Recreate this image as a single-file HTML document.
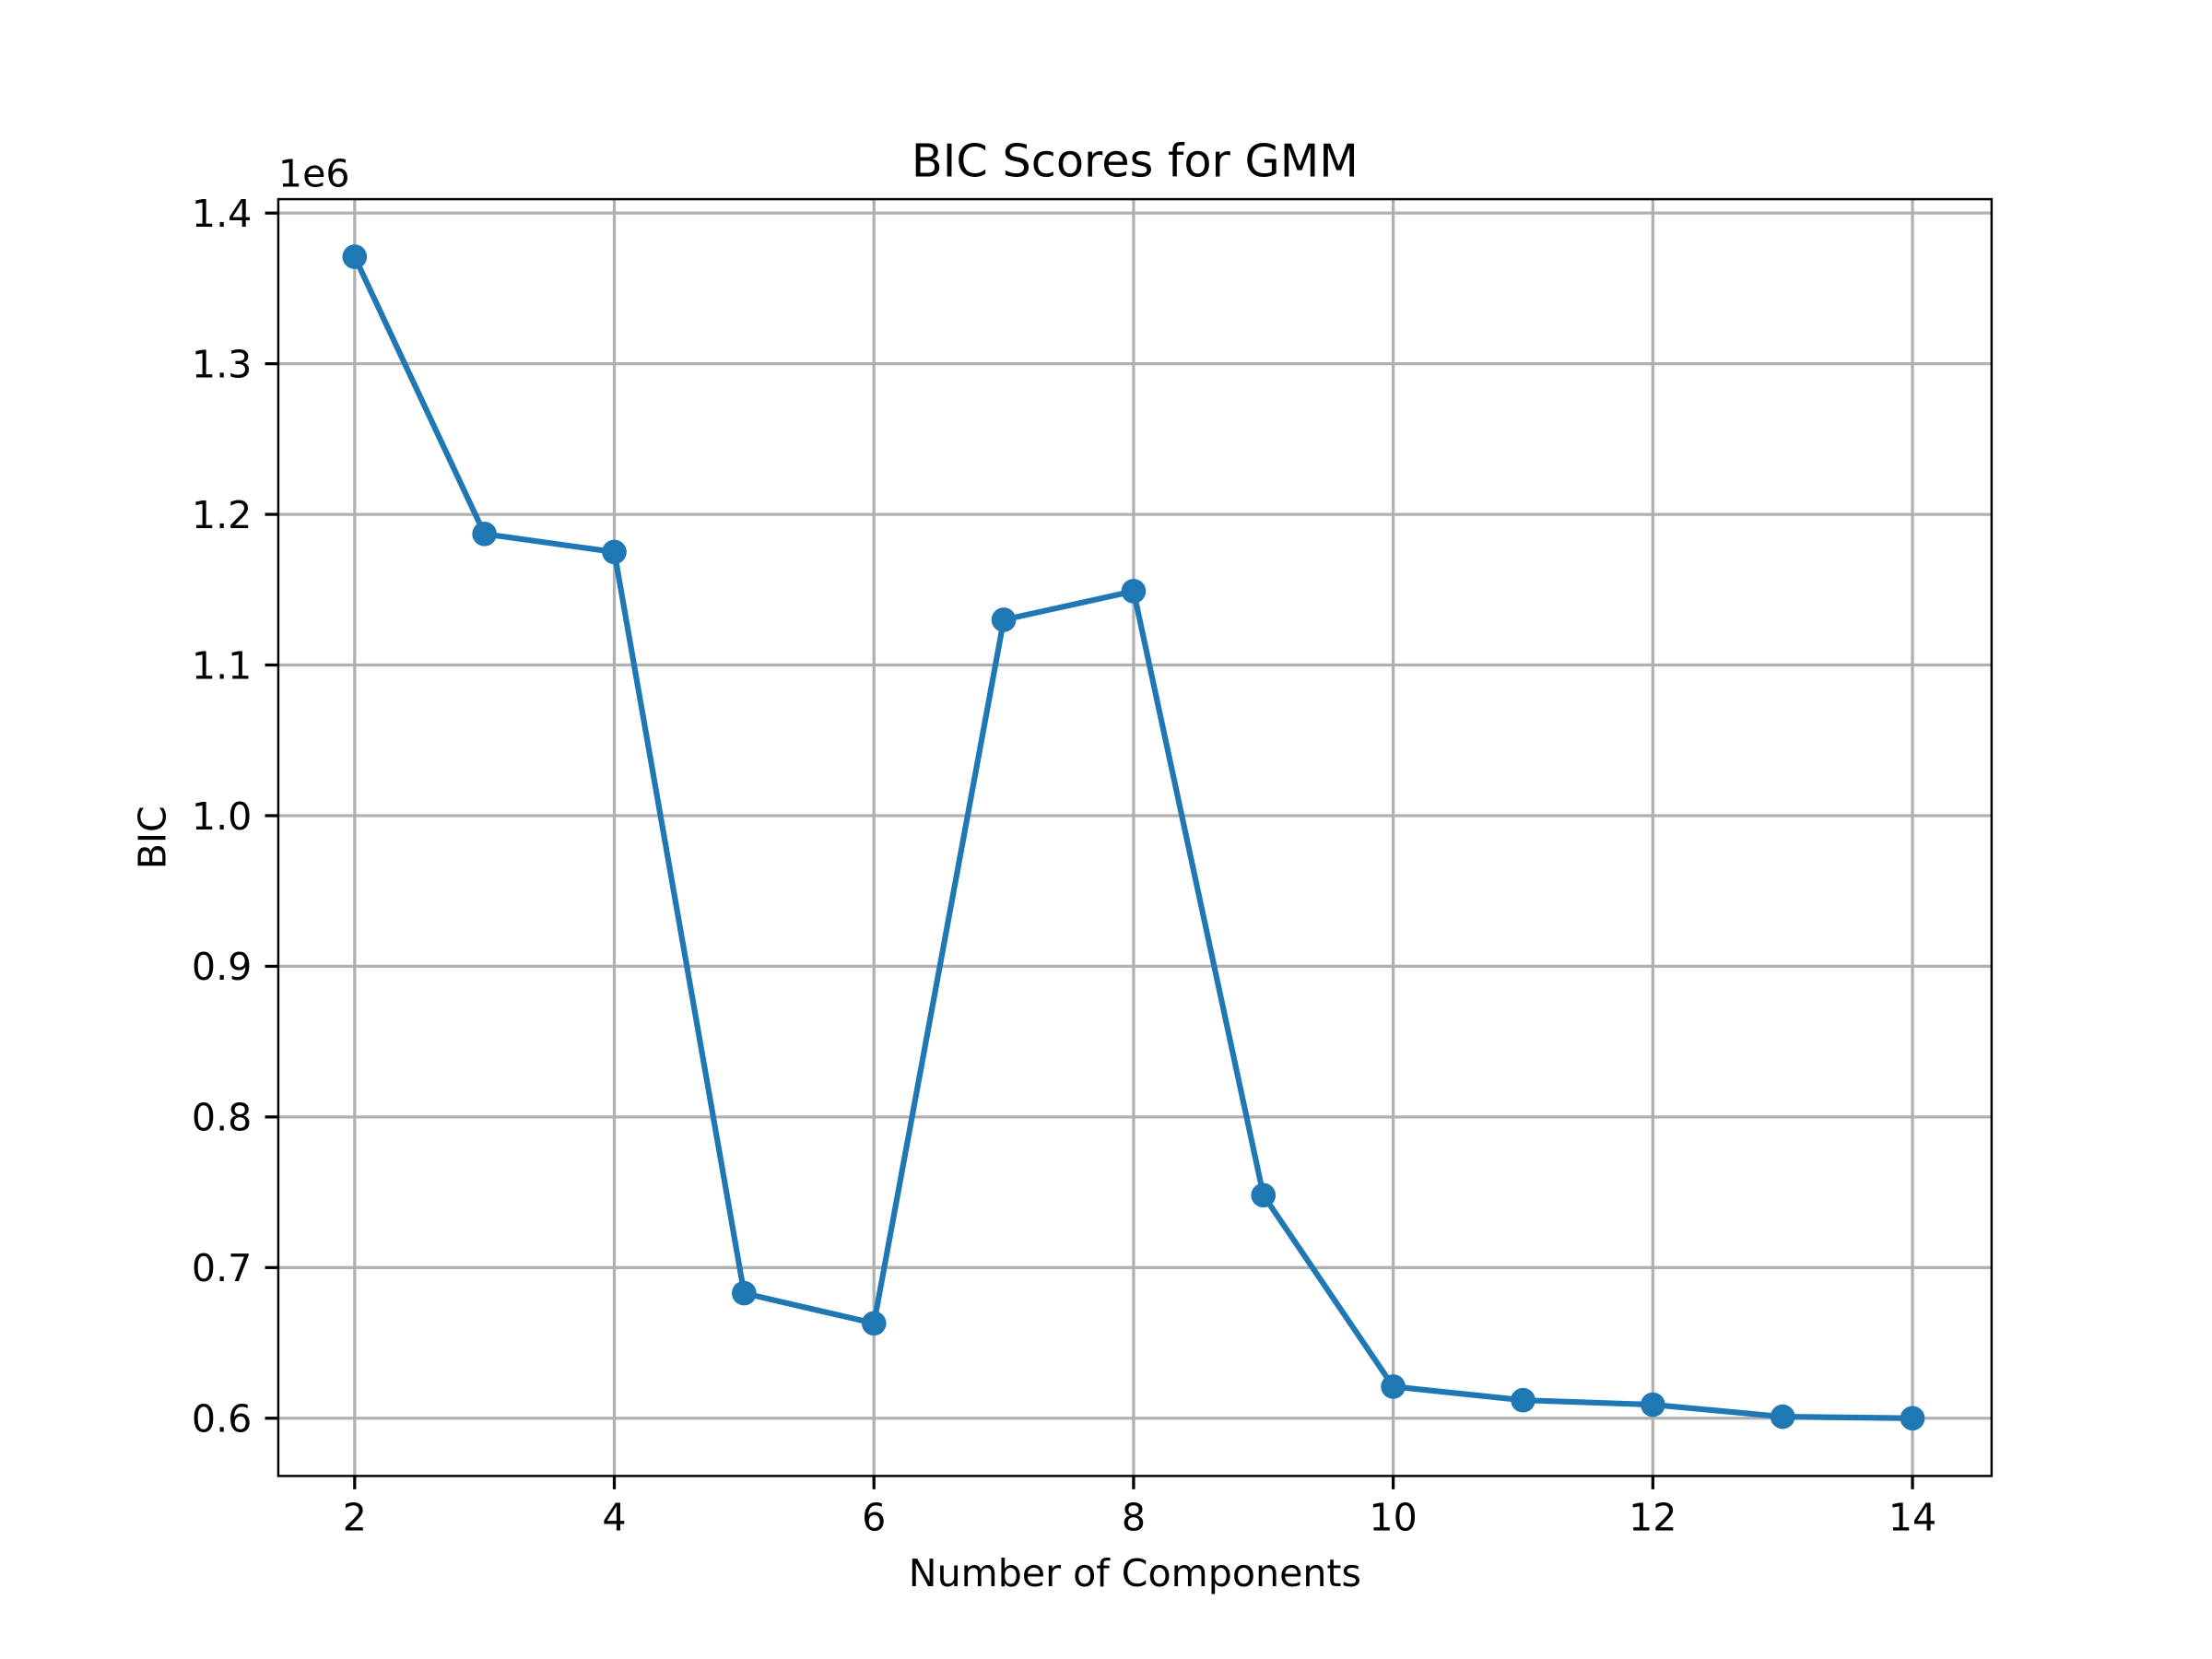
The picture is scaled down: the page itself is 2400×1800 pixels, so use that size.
<!DOCTYPE html>
<html><head><meta charset="utf-8"><style>
html,body{margin:0;padding:0;background:#fff;}
svg{display:block;font-family:"DejaVu Sans","Liberation Sans",sans-serif;}
</style></head><body>
<svg id="chart" width="2400" height="1800" viewBox="0 0 2400 1800">
<rect width="2400" height="1800" fill="#fff"/>
<g transform="scale(0.9867)">
<g id="grid"></g>
<g id="ticks"></g>
<g id="series"></g>
<rect x="306" y="219" width="1884" height="1404" fill="none" stroke="#000" stroke-width="2.5"/>
<text x="1248" y="194" font-size="50" text-anchor="middle">BIC Scores for GMM</text>
<text x="1248" y="1744" font-size="41.7" text-anchor="middle">Number of Components</text>
<text x="0" y="0" font-size="41.7" text-anchor="middle" transform="translate(182,921) rotate(-90)">BIC</text>
<text x="306" y="205" font-size="41.7">1e6</text>
</g>
</svg>
<script>
const components = [2,3,4,5,6,7,8,9,10,11,12,13,14];
const bicValues = [1.371,1.187,1.175,0.683,0.663,1.130,1.149,0.748,0.621,0.612,0.609,0.601,0.600];
const xTicks = [2,4,6,8,10,12,14];
const yTicks = [0.6,0.7,0.8,0.9,1.0,1.1,1.2,1.3,1.4];
const yTickLabels = ["0.6","0.7","0.8","0.9","1.0","1.1","1.2","1.3","1.4"];

const NS="http://www.w3.org/2000/svg";
function xs(v){return 390+(v-2)*(2103-390)/12;}
function ys(v){return 1559.5-(v-0.6)*(1559.5-234.3)/0.8;}
function mk(tag,attrs,parent){const e=document.createElementNS(NS,tag);for(const k in attrs)e.setAttribute(k,attrs[k]);parent.appendChild(e);return e;}
const grid=document.getElementById('grid'),ticks=document.getElementById('ticks'),series=document.getElementById('series');
xTicks.forEach(t=>{
  const x=xs(t);
  const g=mk('line',{x1:x,x2:x,y1:219,y2:1623,stroke:'#b0b0b0','stroke-width':3.3},grid);
  
  
  const tk=mk('line',{x1:x,x2:x,y1:1623,y2:1637.6,stroke:'#000','stroke-width':3.3},ticks);
  
  
  const lb=mk('text',{x:x,y:1683,'font-size':41.7,'text-anchor':'middle'},ticks);
  lb.textContent=String(t);
  
  
});
yTicks.forEach((t,i)=>{
  const y=ys(t);
  const g=mk('line',{x1:306,x2:2190,y1:y,y2:y,stroke:'#b0b0b0','stroke-width':3.3},grid);
  
  
  const tk=mk('line',{x1:291.4,x2:306,y1:y,y2:y,stroke:'#000','stroke-width':3.3},ticks);
  
  
  const lb=mk('text',{x:277,y:y+15,'font-size':41.7,'text-anchor':'end'},ticks);
  lb.textContent=yTickLabels[i];
  
  
});
const pts=components.map((c,i)=>xs(c)+','+ys(bicValues[i])).join(' ');
const line=mk('polyline',{points:pts,fill:'none',stroke:'#1f77b4','stroke-width':6.25,'stroke-linejoin':'round','stroke-linecap':'square'},series);


components.forEach((c,i)=>{
  const p=mk('circle',{cx:xs(c),cy:ys(bicValues[i]),r:13.5,fill:'#1f77b4'},series);
  
  
});
</script>
</body></html>
